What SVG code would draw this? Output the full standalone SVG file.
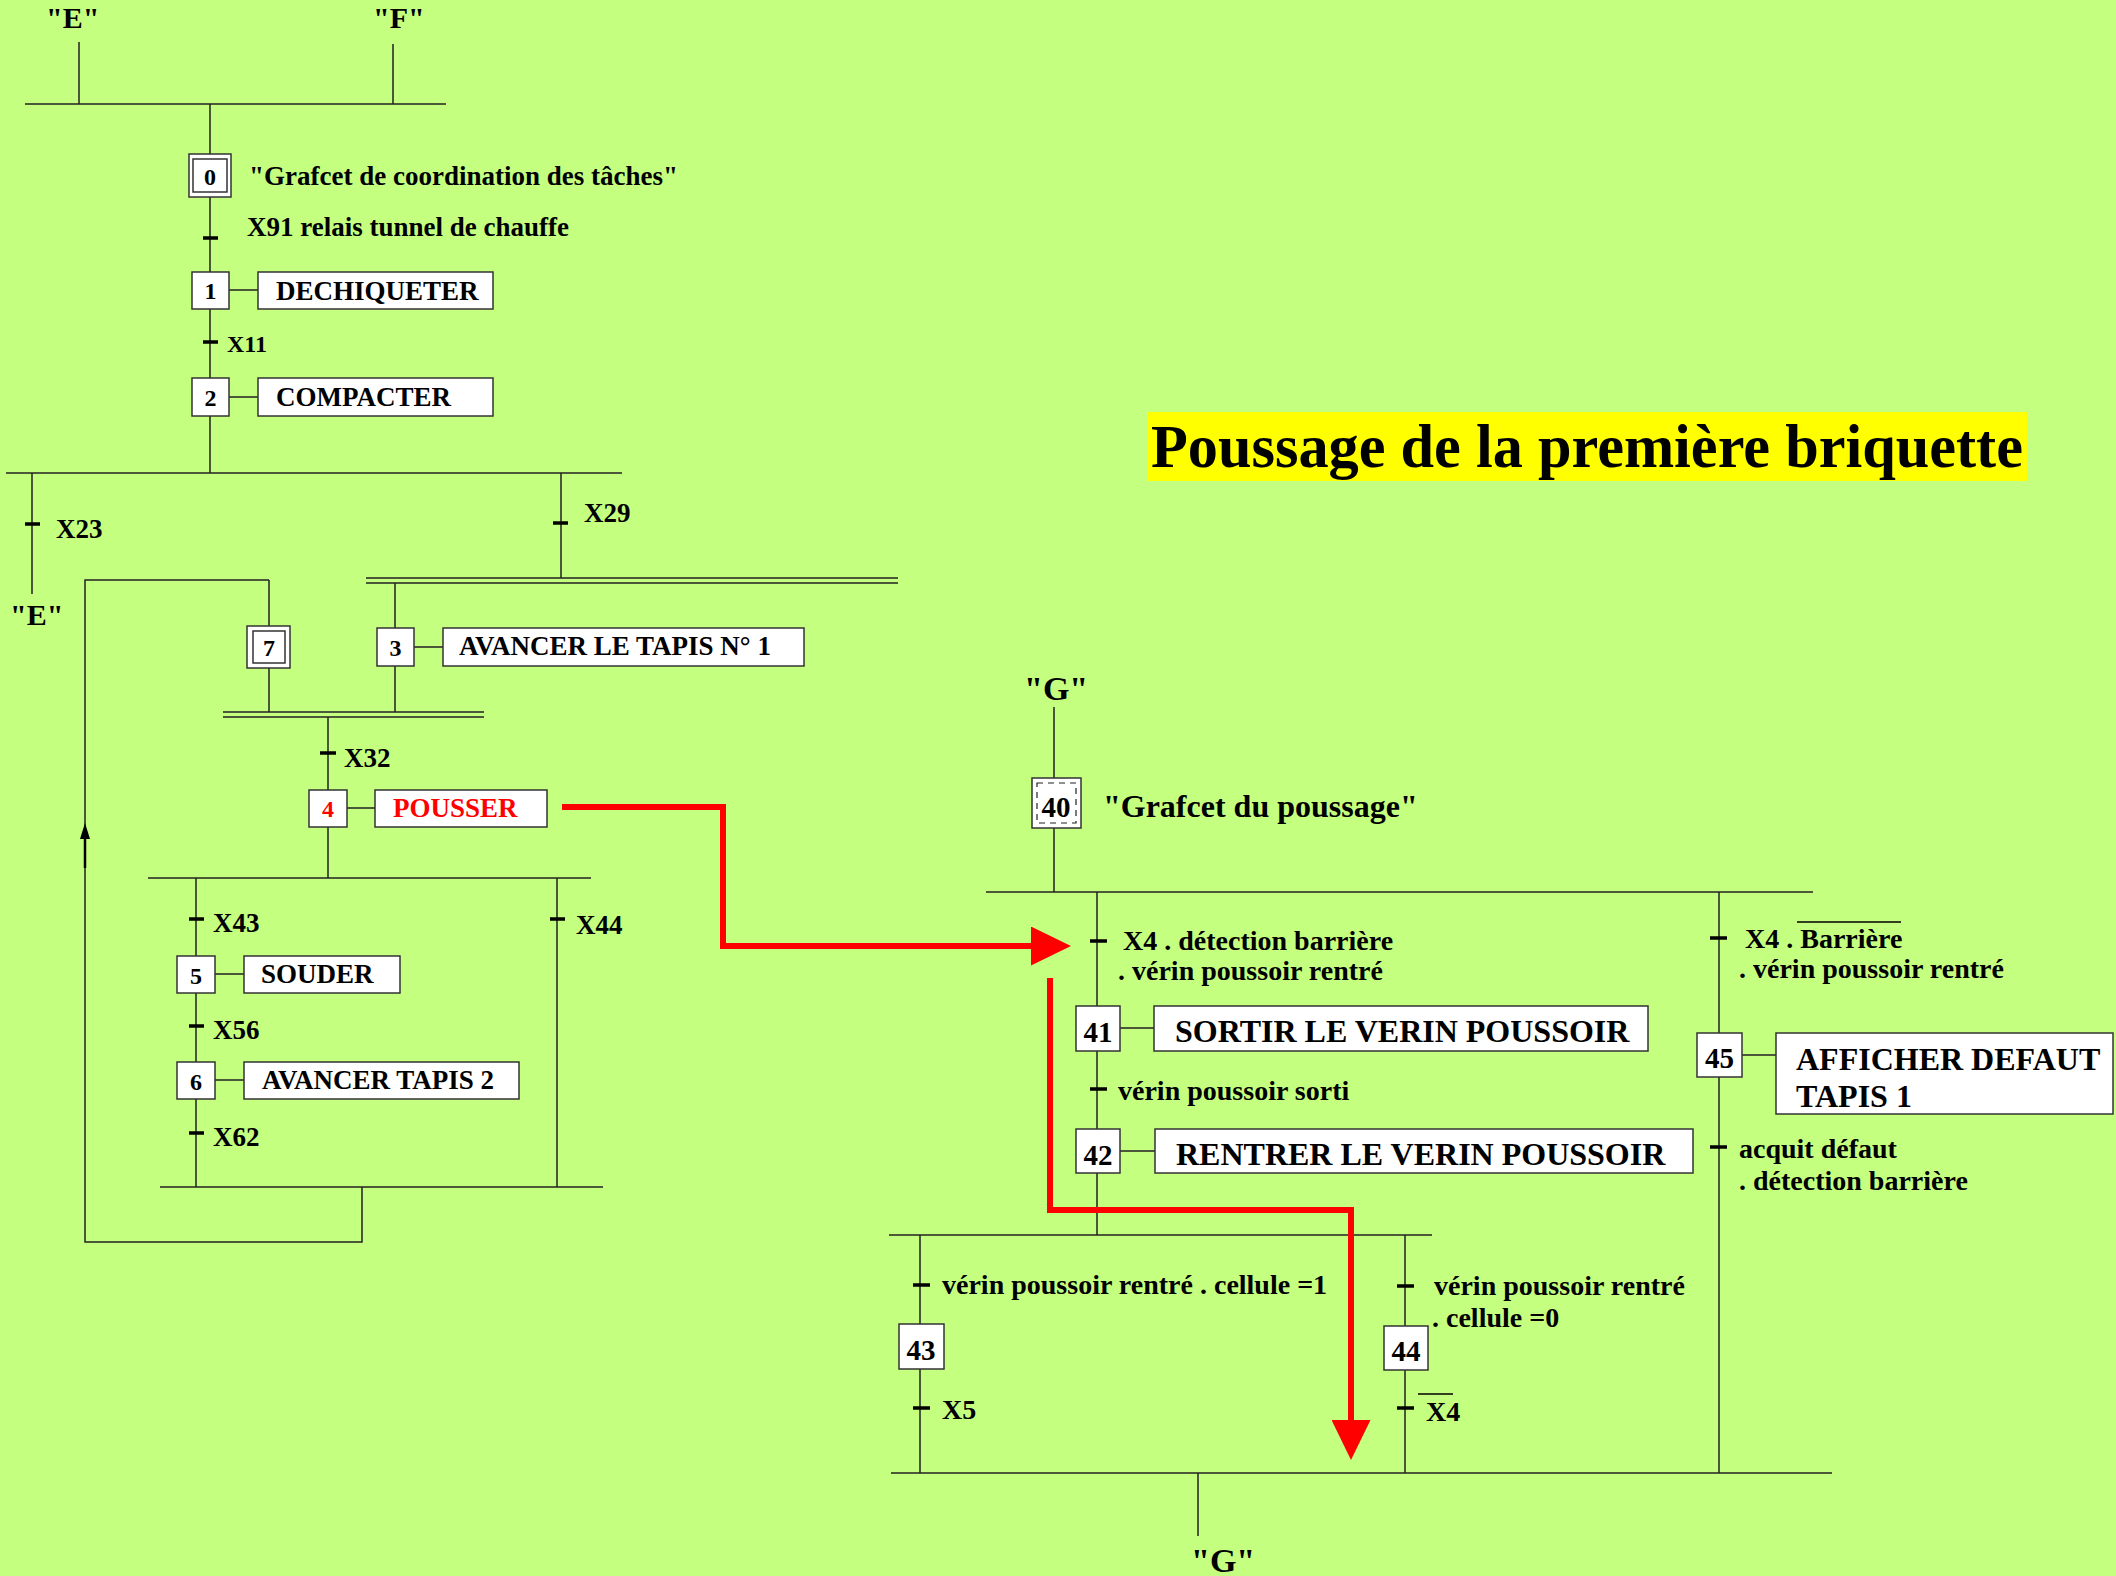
<svg xmlns="http://www.w3.org/2000/svg" width="2116" height="1576" viewBox="0 0 2116 1576">
<style>
.ln{stroke:#222;stroke-width:1.5;fill:none}
.tk{stroke:#000;stroke-width:3.5}
.box{fill:#fff;stroke:#333;stroke-width:1.5}
.t{font-family:"Liberation Serif","Times New Roman",serif;font-weight:bold;fill:#000}
.n{font-size:24px;text-anchor:middle}
.nr{font-size:29px;text-anchor:middle}
.l{font-size:27px}
.r{font-size:28px}
.a{font-size:32px}
.red{stroke:#ff0000;stroke-width:6;fill:none}
</style>
<defs>
<marker id="ar" markerUnits="userSpaceOnUse" viewBox="0 0 40 39" refX="0" refY="19.5" markerWidth="40" markerHeight="39" orient="auto">
<path d="M0,0 L40,19.5 L0,39 Z" fill="#ff0000"/>
</marker>
</defs>
<rect width="2116" height="1576" fill="#c5ff80"/>

<g id="connectors">
<path class="ln" d="M79 42 V104 M393 44 V104 M25 104 H446"/>
<path class="ln" d="M210 104 V154 M210 197 V272 M210 309 V378 M210 416 V473"/>
<path class="ln" d="M6 473 H622"/>
<path class="ln" d="M32 473 V594 M561 473 V578"/>
<path class="ln" d="M366 578 H898 M366 583 H898"/>
<path class="ln" d="M395 583 V628 M395 666 V712"/>
<path class="ln" d="M269 580 V626 M269 668 V712"/>
<path class="ln" d="M269 580 H85 V1242 H362 V1187"/>
<path d="M85 823 L80 839 L90 839 Z" fill="#000"/>
<path d="M85 836 V868" stroke="#000" stroke-width="2.5"/>
<path class="ln" d="M223 712 H484 M223 717 H484"/>
<path class="ln" d="M328 717 V790 M328 827 V878"/>
<path class="ln" d="M148 878 H591"/>
<path class="ln" d="M196 878 V956 M196 993 V1062 M196 1099 V1187 M557 878 V1187"/>
<path class="ln" d="M160 1187 H603"/>
<path class="ln" d="M229 290 H258 M229 397 H258 M414 647 H443 M347 808 H375 M215 974 H244 M215 1080 H244"/>
<path class="tk" d="M203 238 H218 M203 342 H218 M25 524 H40 M553 523 H568 M320 753 H336 M189 919 H204 M189 1026 H204 M189 1133 H204 M550 919 H565"/>

<path class="ln" d="M1054 707 V778 M1054 828 V892"/>
<path class="ln" d="M986 892 H1813"/>
<path class="ln" d="M1097 892 V1006 M1097 1051 V1129 M1097 1173 V1235"/>
<path class="ln" d="M889 1235 H1432"/>
<path class="ln" d="M920 1235 V1324 M920 1369 V1473 M1405 1235 V1326 M1405 1370 V1473"/>
<path class="ln" d="M1719 892 V1033 M1719 1077 V1473"/>
<path class="ln" d="M891 1473 H1832"/>
<path class="ln" d="M1198 1473 V1536"/>
<path class="ln" d="M1120 1028 H1154 M1120 1151 H1155 M1742 1055 H1776"/>
<path class="tk" d="M1090 941 H1107 M1090 1089 H1107 M1710 938 H1727 M1710 1147 H1727 M913 1285 H930 M1397 1286 H1414 M913 1408 H930 M1397 1408 H1414"/>
<path d="M1797 922 H1901 M1418 1394 H1453" stroke="#000" stroke-width="1.5"/>
<path class="red" d="M562 807 H723 V946 H1031" marker-end="url(#ar)"/>
<path class="red" d="M1050 978 V1210 H1351 V1420" marker-end="url(#ar)"/>
</g>

<g id="labels-left">
<text class="t" x="46" y="28" font-size="30">"E"</text>
<text class="t" x="373" y="28" font-size="30">"F"</text>
<text class="t" x="10" y="625" font-size="30">"E"</text>
<text class="t l" x="249" y="185">"Grafcet de coordination des tâches"</text>
<text class="t l" x="247" y="236">X91 relais tunnel de chauffe</text>
<text class="t" x="227" y="352" font-size="24">X11</text>
<text class="t l" x="56" y="538">X23</text>
<text class="t l" x="584" y="522">X29</text>
<text class="t l" x="344" y="767">X32</text>
<text class="t l" x="213" y="932">X43</text>
<text class="t l" x="213" y="1039">X56</text>
<text class="t l" x="213" y="1146">X62</text>
<text class="t l" x="576" y="934">X44</text>
</g>

<g id="step0"><rect class="box" x="189" y="154" width="42" height="43"/><rect class="box" x="193" y="159" width="34" height="33"/><text class="t n" x="210" y="185">0</text></g>
<g id="step1"><rect class="box" x="192" y="272" width="37" height="37"/><text class="t n" x="210.5" y="299">1</text></g>
<g id="action1"><rect class="box" x="258" y="272" width="235" height="37"/><text class="t l" x="276" y="300">DECHIQUETER</text></g>
<g id="step2"><rect class="box" x="192" y="378" width="37" height="38"/><text class="t n" x="210.5" y="406">2</text></g>
<g id="action2"><rect class="box" x="258" y="378" width="235" height="38"/><text class="t l" x="276" y="406">COMPACTER</text></g>
<g id="step7"><rect class="box" x="247" y="626" width="43" height="42"/><rect class="box" x="253" y="631" width="32" height="32"/><text class="t n" x="269" y="656">7</text></g>
<g id="step3"><rect class="box" x="377" y="628" width="37" height="38"/><text class="t n" x="395.5" y="656">3</text></g>
<g id="action3"><rect class="box" x="443" y="628" width="361" height="38"/><text class="t l" x="459" y="655">AVANCER LE TAPIS N° 1</text></g>
<g id="step4"><rect class="box" x="309" y="790" width="38" height="37"/><text class="t n" x="328" y="817" style="fill:#ff0000">4</text></g>
<g id="action4"><rect class="box" x="375" y="790" width="172" height="37"/><text class="t l" x="393" y="817" style="fill:#ff0000">POUSSER</text></g>
<g id="step5"><rect class="box" x="177" y="956" width="38" height="37"/><text class="t n" x="196" y="984">5</text></g>
<g id="action5"><rect class="box" x="244" y="956" width="156" height="37"/><text class="t l" x="261" y="983">SOUDER</text></g>
<g id="step6"><rect class="box" x="177" y="1062" width="38" height="37"/><text class="t n" x="196" y="1090">6</text></g>
<g id="action6"><rect class="box" x="244" y="1062" width="275" height="37"/><text class="t l" x="262" y="1089">AVANCER TAPIS 2</text></g>

<g id="title"><rect x="1147" y="412" width="880" height="69" fill="#ffff00"/><text class="t" x="1151" y="467" font-size="60.3">Poussage de la première briquette</text></g>

<g id="labels-right">
<text class="t" x="1024" y="700" font-size="34">"G"</text>
<text class="t a" x="1103" y="817">"Grafcet du poussage"</text>
<text class="t r" x="1123" y="950">X4 . détection barrière</text>
<text class="t r" x="1118" y="980">. vérin poussoir rentré</text>
<text class="t r" x="1118" y="1100">vérin poussoir sorti</text>
<text class="t r" x="1745" y="948">X4 . Barrière</text>
<text class="t r" x="1739" y="978">. vérin poussoir rentré</text>
<text class="t r" x="1739" y="1158">acquit défaut</text>
<text class="t r" x="1739" y="1190">. détection barrière</text>
<text class="t r" x="942" y="1294">vérin poussoir rentré . cellule =1</text>
<text class="t r" x="1434" y="1295">vérin poussoir rentré</text>
<text class="t r" x="1432" y="1327">. cellule =0</text>
<text class="t r" x="942" y="1419">X5</text>
<text class="t r" x="1426" y="1421">X4</text>
<text class="t" x="1191" y="1572" font-size="34">"G"</text>
</g>

<g id="step40"><rect class="box" x="1032" y="778" width="49" height="50"/><rect x="1037" y="783" width="39" height="40" fill="none" stroke="#222" stroke-width="1.2" stroke-dasharray="6,5"/><text class="t nr" x="1056" y="817">40</text></g>
<g id="step41"><rect class="box" x="1076" y="1006" width="44" height="45"/><text class="t nr" x="1098" y="1042">41</text></g>
<g id="action41"><rect class="box" x="1154" y="1006" width="494" height="45"/><text class="t a" x="1175" y="1042">SORTIR LE VERIN POUSSOIR</text></g>
<g id="step42"><rect class="box" x="1076" y="1129" width="44" height="44"/><text class="t nr" x="1098" y="1165">42</text></g>
<g id="action42"><rect class="box" x="1155" y="1129" width="538" height="44"/><text class="t a" x="1176" y="1165">RENTRER LE VERIN POUSSOIR</text></g>
<g id="step43"><rect class="box" x="899" y="1324" width="45" height="45"/><text class="t nr" x="921" y="1360">43</text></g>
<g id="step44"><rect class="box" x="1384" y="1326" width="44" height="44"/><text class="t nr" x="1406" y="1361">44</text></g>
<g id="step45"><rect class="box" x="1697" y="1033" width="45" height="44"/><text class="t nr" x="1719.5" y="1068">45</text></g>
<g id="action45"><rect class="box" x="1776" y="1033" width="337" height="81"/><text class="t a" x="1796" y="1070">AFFICHER DEFAUT</text><text class="t a" x="1796" y="1107">TAPIS 1</text></g>
</svg>
